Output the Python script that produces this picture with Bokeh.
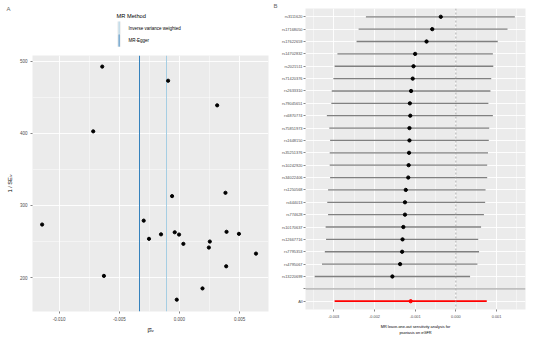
from bokeh.plotting import figure
from bokeh.layouts import row, column
from bokeh.models import Range1d, FixedTicker, Span
from bokeh.core.properties import value
from bokeh.embed import file_html
from bokeh.resources import INLINE

FONT = "Liberation Sans"

# ---------------- Panel A data (funnel plot) ----------------
beta_iv = [-0.00642, -0.00094, 0.00314, -0.00717, 0.00383, -0.00061, -0.00297,
           -0.01142, -0.00253, -0.00153, -0.00039, -0.00003, 0.00033, 0.00253,
           0.00245, 0.00392, 0.00495, 0.00637, 0.00389, -0.00628, 0.00192, -0.00022]
inv_se_iv = [492.6, 473.0, 438.9, 402.8, 317.6, 313.0, 279.0, 273.6, 253.8, 260.0,
             262.9, 259.7, 246.8, 250.0, 241.7, 263.5, 260.7, 233.3, 215.7, 202.4,
             185.0, 169.4]
method_names = ["Inverse variance weighted", "MR-Egger"]
method_b = [-0.00108, -0.00330]
a_xticks = [-0.010, -0.005, 0.000, 0.005]
a_xlabels = ["-0.010", "-0.005", "0.000", "0.005"]
a_yticks = [200, 300, 400, 500]

# ---------------- Panel B data (leave-one-out) ----------------
snps = ["rs3111620", "rs17168050", "rs17622659", "rs14702832", "rs2021511",
        "rs71420376", "rs2633310", "rs79045651", "rs6870774", "rs75851973",
        "rs1648150", "rs35251376", "rs10242920", "rs34022406", "rs1250568",
        "rs644013", "rs774628", "rs10170637", "rs12667716", "rs7795353",
        "rs4795067", "rs13220699"]
loo_b = [-0.00037, -0.00058, -0.00072, -0.00100, -0.00104, -0.00106, -0.00110,
         -0.00113, -0.00112, -0.00114, -0.00114, -0.00115, -0.00116, -0.00117,
         -0.00123, -0.00125, -0.00125, -0.00129, -0.00131, -0.00132, -0.00137,
         -0.00156]
loo_lo = [-0.00221, -0.00239, -0.00244, -0.00291, -0.00298, -0.00301, -0.00305,
          -0.00306, -0.00317, -0.00311, -0.00309, -0.00310, -0.00310, -0.00309,
          -0.00314, -0.00316, -0.00314, -0.00320, -0.00319, -0.00322, -0.00329,
          -0.00347]
loo_up = [0.00145, 0.00127, 0.00103, 0.00091, 0.00092, 0.00087, 0.00085, 0.00080,
          0.00091, 0.00082, 0.00081, 0.00079, 0.00077, 0.00077, 0.00073, 0.00072,
          0.00069, 0.00062, 0.00055, 0.00057, 0.00053, 0.00035]
all_label = "All"
all_b = [-0.00111]
all_lo = [-0.00298]
all_up = [0.00076]
b_xticks = [-0.003, -0.002, -0.001, 0.000, 0.001]
b_xlabels = ["-0.003", "-0.002", "-0.001", "0.000", "0.001"]

PANEL_BG = "#EBEBEB"
TICK_COL = "#4D4D4D"
METHOD_COLORS = ["#A6CEE3", "#3582BD"]


def style(p, tick_font, title_font):
    p.background_fill_color = PANEL_BG
    p.border_fill_color = "white"
    p.outline_line_color = None
    for ax in (p.xaxis[0], p.yaxis[0]):
        ax.axis_line_color = None
        ax.major_tick_line_color = "#333333"
        ax.major_tick_line_width = 0.6
        ax.major_tick_out = 2
        ax.major_tick_in = 0
        ax.minor_tick_line_color = None
        ax.major_label_text_font = FONT
        ax.major_label_text_font_size = tick_font
        ax.major_label_text_color = TICK_COL
        ax.major_label_standoff = 1
        ax.axis_label_text_font = FONT
        ax.axis_label_text_font_size = title_font
        ax.axis_label_text_font_style = "normal"
        ax.axis_label_text_color = "black"
        ax.axis_label_standoff = 3
    for g in (p.xgrid[0], p.ygrid[0]):
        g.grid_line_color = "white"
        g.grid_line_width = 0.9
        g.minor_grid_line_color = "white"
        g.minor_grid_line_width = 0.45


# ---------------- Header of panel A: tag + legend ----------------
# its frame lines up with panel A's frame (canvas x 32..268), so data x = canvas x
hd = figure(width=270, height=55, output_backend="svg", toolbar_location=None,
            x_range=Range1d(32, 268), y_range=Range1d(55, 0), x_axis_type=None,
            min_border_left=32, min_border_right=2, min_border_top=0,
            min_border_bottom=0)
hd.grid.visible = False
hd.outline_line_color = None
hd.background_fill_color = "white"
hd.border_fill_color = "white"
ya = hd.yaxis[0]
ya.ticker = FixedTicker(ticks=[8])
ya.major_label_overrides = {8: "A"}
ya.axis_line_color = None
ya.major_tick_line_color = None
ya.minor_tick_line_color = None
ya.major_label_text_font = FONT
ya.major_label_text_font_size = "6px"
ya.major_label_text_color = "#666666"
ya.major_label_standoff = 16

hd.text(x=[116], y=[15], text=["MR Method"], text_font=value(FONT),
        text_font_size=value("5.7px"), text_color="black", text_baseline="middle")
key_top = [21.0, 33.8]
key_bot = [33.4, 46.2]
hd.quad(left=116.6, right=120.6, top=key_top, bottom=key_bot, fill_color="#F2F2F2",
        line_color=None)
hd.segment(x0=118.6, x1=118.6, y0=key_top, y1=key_bot, line_color=METHOD_COLORS,
           line_width=1.0)
hd.text(x=[128, 128], y=[28, 39.5], text=method_names, text_font=value(FONT),
        text_font_size=value("4.5px"), text_color="black", text_baseline="middle")

# ---------------- Panel A ----------------
pa = figure(width=270, height=283, output_backend="svg", toolbar_location=None,
            x_range=Range1d(-0.01222, 0.00741), y_range=Range1d(153, 508),
            min_border_left=32, min_border_right=2, min_border_top=0,
            min_border_bottom=27)
style(pa, "4.5px", "5.7px")
pa.xaxis[0].ticker = FixedTicker(ticks=a_xticks,
                                 minor_ticks=[-0.0125, -0.0075, -0.0025, 0.0025, 0.0075])
pa.xaxis[0].major_label_overrides = dict(zip(a_xticks, a_xlabels))
pa.yaxis[0].ticker = FixedTicker(ticks=a_yticks, minor_ticks=[150, 250, 350, 450])
pa.xaxis[0].axis_label = "β̂ᵢᵥ"
pa.yaxis[0].axis_label = "1 / SEᵢᵥ"
pa.yaxis[0].axis_label_standoff = 4

pa.vspan(x=method_b, line_color=METHOD_COLORS, line_width=1.0)
pa.scatter(beta_iv, inv_se_iv, size=3.2, color="black")

# ---------------- Panel B ----------------
n = len(snps)
snp_y = [n + 2 - i for i in range(n)]
all_y = [1]
yticks = [1, 2] + snp_y[::-1]
ylabels = {1: all_label, 2: ""}
for s, y in zip(snps, snp_y):
    ylabels[y] = s

pb = figure(width=269, height=338, output_backend="svg", toolbar_location=None,
            x_range=Range1d(-0.003695, 0.001712), y_range=Range1d(0.33, n + 2.67),
            min_border_left=35, min_border_right=14, min_border_top=7,
            min_border_bottom=29)
style(pb, "3.9px", "3.9px")
pb.title.text = "B"
pb.title.text_font = FONT
pb.title.text_font_size = "6px"
pb.title.text_font_style = "normal"
pb.title.text_color = "#666666"
pb.title.align = "left"
pb.title.offset = -32
pb.title.standoff = 0
pb.xaxis[0].ticker = FixedTicker(ticks=b_xticks,
                                 minor_ticks=[-0.0035, -0.0025, -0.0015, -0.0005, 0.0005, 0.0015])
pb.xaxis[0].major_label_overrides = dict(zip(b_xticks, b_xlabels))
pb.yaxis[0].ticker = FixedTicker(ticks=yticks)
pb.yaxis[0].major_label_overrides = ylabels
pb.ygrid[0].minor_grid_line_color = None
pb.xaxis[0].axis_label = "MR leave-one-out sensitivity analysis for\npsoriasis on eGFR"
pb.xaxis[0].axis_label_standoff = 3

pb.add_layout(Span(location=0, dimension="height", line_color="#999999",
                   line_width=0.8, line_dash="2 2"))
pb.add_layout(Span(location=2, dimension="width", line_color="#AAAAAA",
                   line_width=1.2))
pb.segment(x0=loo_lo, y0=snp_y, x1=loo_up, y1=snp_y, line_color="#808080",
           line_width=1.3)
pb.scatter(loo_b, snp_y, size=3.3, color="black")
pb.segment(x0=all_lo, y0=all_y, x1=all_up, y1=all_y, line_color="red",
           line_width=1.8)
pb.scatter(all_b, all_y, size=3.3, color="red")

layout = row(column(hd, pa, spacing=0), pb, spacing=0)
open("out.html", "w").write(file_html(layout, INLINE))
